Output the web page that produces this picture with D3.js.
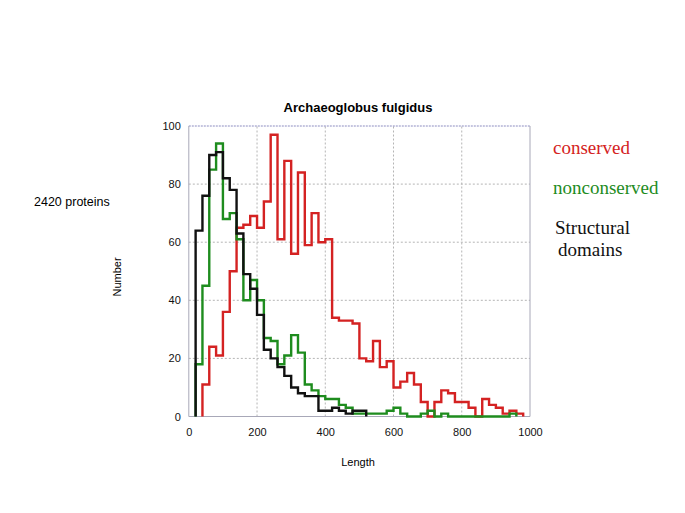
<!DOCTYPE html>
<html>
<head>
<meta charset="utf-8">
<script src="https://cdn.jsdelivr.net/npm/d3@7"></script>
<style>
  html, body { margin: 0; padding: 0; background: #fff; }
  svg { display: block; }
</style>
</head>
<body>
<svg id="chart" width="685" height="513"></svg>
<script>
// Bin starts (length, bin width 20)
const binStarts = [0,20,40,60,80,100,120,140,160,180,200,220,240,260,280,300,320,340,360,380,
                   400,420,440,460,480,500,520,540,560,580,600,620,640,660,680,700,720,740,760,780,
                   800,820,840,860,880,900,920,940,960,980];
const binWidth = 20;

const conserved = [0,0,11,24,21,36,50,65,66,69,65,74,97,61,88,56,84,59,70,60,
                   61,34,33,33,32,20,19,26,17,19,10,12,15,11,5,0,5,9,8,5,
                   5,3,0,6,4,3,1,2,1,0];
const nonconserved = [0,18,45,85,94,68,70,61,40,47,40,27,26,18,21,28,22,11,9,7,
                      6,6,4,3,1,1,1,1,1,2,3,1,0,0,1,2,0,1,0,0,
                      0,0,0,0,0,0,0,1,0,0];
const structural = [0,64,76,90,91,82,78,63,49,44,35,23,20,17,14,10,8,7,7,2,
                    2,3,2,1,2,2,0,0,0,0,0,0,0,0,0,0,0,0,0,0,
                    0,0,0,0,0,0,0,0,0,0];

const xTicks = [0,200,400,600,800,1000];
const yTicks = [0,20,40,60,80,100];

const seriesNames = ["conserved","nonconserved","Structural domains"];
const seriesColors = ["#d42222","#1e8c1e","#111111"];

const svg = d3.select("#chart");
const x = d3.scaleLinear().domain([0,1000]).range([188.8,530]);
const y = d3.scaleLinear().domain([0,100]).range([416.5,126]);

// grid
const grid = svg.append("g");
grid.selectAll("line.vx").data(xTicks.slice(1,-1)).enter().append("line")
  .attr("x1", d=>x(d)).attr("x2", d=>x(d)).attr("y1", y(0)).attr("y2", y(100))
  .attr("stroke","#b4b4b4").attr("stroke-width",1).attr("stroke-dasharray","2,2");
grid.selectAll("line.hy").data(yTicks.slice(1,-1)).enter().append("line")
  .attr("x1", x(0)).attr("x2", x(1000)).attr("y1", d=>y(d)).attr("y2", d=>y(d))
  .attr("stroke","#b4b4b4").attr("stroke-width",1).attr("stroke-dasharray","2,2");

// frame
svg.append("line").attr("x1",x(0)).attr("x2",x(1000)).attr("y1",y(100)).attr("y2",y(100))
  .attr("stroke","#8c8cc0").attr("stroke-width",1).attr("stroke-dasharray","2,1");
svg.append("line").attr("x1",x(0)).attr("x2",x(0)).attr("y1",y(100)).attr("y2",y(0))
  .attr("stroke","#a8a8b8").attr("stroke-width",1);
svg.append("line").attr("x1",x(1000)).attr("x2",x(1000)).attr("y1",y(100)).attr("y2",y(0))
  .attr("stroke","#a8a8b8").attr("stroke-width",1);
svg.append("line").attr("x1",x(0)).attr("x2",x(1000)).attr("y1",y(0)).attr("y2",y(0))
  .attr("stroke","#a8a8b8").attr("stroke-width",1);

// axes (labels only)
const xAxis = d3.axisBottom(x).tickValues(xTicks).tickSize(0).tickPadding(12).tickFormat(d3.format("d"));
const gx = svg.append("g").attr("transform",`translate(0,${y(0)})`).call(xAxis);
gx.select(".domain").remove();
gx.selectAll("text").attr("font-family","Liberation Sans, Arial, sans-serif").attr("font-size",11).attr("fill","#111");

const yAxis = d3.axisLeft(y).tickValues(yTicks).tickSize(0).tickPadding(8).tickFormat(d3.format("d"));
const gy = svg.append("g").attr("transform",`translate(${x(0)},0)`).call(yAxis);
gy.select(".domain").remove();
gy.selectAll("text").attr("font-family","Liberation Sans, Arial, sans-serif").attr("font-size",11).attr("fill","#111");

// histogram outlines
function stepPoints(values){
  let first = values.findIndex(v=>v>0);
  let last = values.length-1;
  while(last>=0 && values[last]===0) last--;
  const pts = [[binStarts[first],0]];
  for(let i=first;i<=last;i++){
    pts.push([binStarts[i], values[i]]);
    pts.push([binStarts[i]+binWidth, values[i]]);
  }
  pts.push([binStarts[last]+binWidth,0]);
  return pts;
}
const line = d3.line().x(d=>x(d[0])).y(d=>y(d[1]));
const allSeries = [conserved, nonconserved, structural];
allSeries.forEach((vals,i)=>{
  svg.append("path").datum(stepPoints(vals)).attr("d",line)
    .attr("fill","none").attr("stroke",seriesColors[i]).attr("stroke-width",2.4)
    .attr("stroke-linejoin","miter");
});

// title & labels
svg.append("text").attr("x",358).attr("y",112).attr("text-anchor","middle")
  .attr("font-family","Liberation Sans, Arial, sans-serif").attr("font-weight","bold").attr("font-size",13)
  .text("Archaeoglobus fulgidus");
svg.append("text").attr("x",358).attr("y",466).attr("text-anchor","middle")
  .attr("font-family","Liberation Sans, Arial, sans-serif").attr("font-size",11).text("Length");
svg.append("text").attr("transform","translate(121,277) rotate(-90)").attr("text-anchor","middle")
  .attr("font-family","Liberation Sans, Arial, sans-serif").attr("font-size",11).text("Number");
svg.append("text").attr("x",34).attr("y",206)
  .attr("font-family","Liberation Sans, Arial, sans-serif").attr("font-size",12.5).text("2420 proteins");

// legend
const lg = svg.append("g").attr("font-family","Liberation Serif, Times New Roman, serif").attr("font-size",19);
lg.append("text").attr("x",553).attr("y",154).attr("fill",seriesColors[0]).text(seriesNames[0]);
lg.append("text").attr("x",553).attr("y",194).attr("fill",seriesColors[1]).text(seriesNames[1]);
lg.append("text").attr("x",555).attr("y",234).attr("fill",seriesColors[2]).text("Structural");
lg.append("text").attr("x",558).attr("y",256).attr("fill",seriesColors[2]).text("domains");
</script>
</body>
</html>
